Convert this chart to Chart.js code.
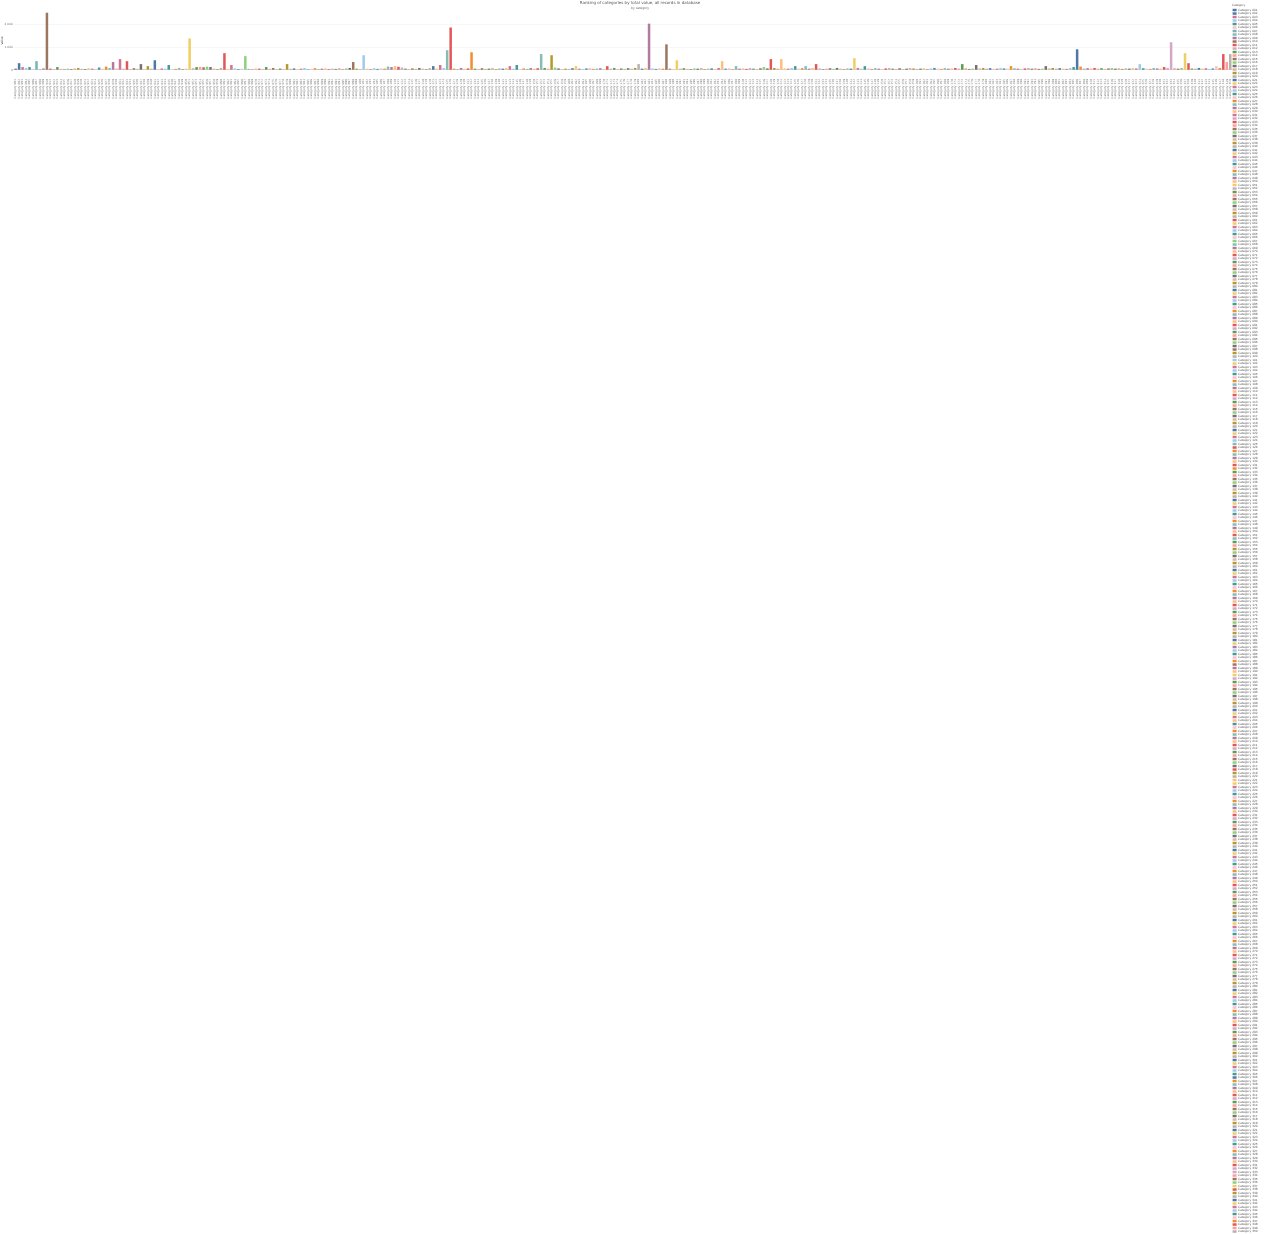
<!DOCTYPE html>
<html>
<head>
<meta charset="utf-8">
<script src="https://cdn.jsdelivr.net/npm/chart.js@4/dist/chart.umd.min.js"></script>
<style>
html,body{margin:0;padding:0;background:#fff;}
#wrap{width:1280px;height:1234px;}
</style>
</head>
<body>
<div id="wrap"><canvas id="c" width="1280" height="1234"></canvas></div>
<script>
const titleText = "Ranking of categories by total value, all records in database";
const subtitleText = "by category";
const yAxisTitle = "Value";
const legendTitle = "Category";

const values = [
  60, 300, 130, 90, 130, 50, 390, 40, 70, 2520,
  60, 40, 130, 50, 30, 60, 40, 70, 90, 50,
  40, 80, 60, 30, 110, 60, 150, 90, 350, 70,
  480, 60, 390, 40, 80, 50, 260, 30, 170, 60,
  430, 40, 70, 60, 220, 30, 50, 90, 40, 60,
  1390, 80, 130, 140, 120, 150, 130, 60, 40, 90,
  740, 50, 220, 70, 40, 60, 610, 50, 30, 70,
  60, 40, 130, 50, 90, 30, 60, 40, 260, 50,
  70, 40, 60, 90, 30, 50, 80, 40, 60, 70,
  40, 60, 50, 80, 30, 70, 90, 350, 60, 40,
  650, 60, 40, 80, 50, 70, 60, 150, 130, 170,
  140, 110, 60, 40, 70, 50, 90, 60, 40, 80,
  170, 60, 220, 90, 870, 1870, 60, 40, 90, 50,
  70, 780, 60, 40, 80, 50, 60, 90, 40, 70,
  60, 90, 170, 60, 220, 40, 70, 50, 90, 60,
  80, 700, 90, 60, 650, 110, 70, 40, 60, 50,
  80, 170, 60, 40, 70, 90, 50, 60, 80, 40,
  170, 60, 90, 40, 70, 50, 80, 60, 90, 260,
  60, 90, 2040, 70, 50, 80, 60, 1130, 60, 40,
  430, 60, 80, 50, 40, 70, 60, 90, 40, 60,
  70, 50, 90, 390, 60, 80, 40, 170, 60, 70,
  50, 90, 60, 40, 80, 130, 70, 480, 90, 60,
  480, 70, 60, 90, 170, 60, 80, 170, 60, 90,
  260, 70, 40, 60, 80, 50, 90, 60, 40, 70,
  60, 520, 90, 60, 170, 70, 50, 80, 60, 40,
  70, 90, 60, 50, 80, 40, 60, 90, 70, 50,
  60, 80, 40, 70, 90, 60, 50, 80, 60, 70,
  90, 60, 260, 80, 50, 60, 220, 70, 90, 60,
  80, 50, 60, 90, 70, 60, 170, 80, 60, 50,
  70, 90, 60, 80, 50, 60, 170, 70, 90, 60,
  80, 60, 50, 90, 130, 910, 150, 60, 80, 70,
  90, 60, 80, 50, 70, 90, 60, 80, 50, 70,
  60, 90, 70, 260, 80, 60, 50, 90, 70, 60,
  130, 90, 1220, 80, 60, 90, 740, 300, 70, 60,
  90, 60, 80, 50, 70, 170, 90, 700, 350, 700
];

// category names are not legible in the reference; placeholders
const categories = values.map((v, i) => "Category " + String(i + 1).padStart(3, "0"));

const yTicks = [0, 1000, 2000];

// styling
const palette = ["#4E79A7","#A0CBE8","#F28E2B","#FFBE7D","#59A14F","#8CD17D","#B6992D","#F1CE63","#499894","#86BCB6","#E15759","#FF9D9A","#79706E","#BAB0AC","#D37295","#FABFD2","#B07AA1","#D4A6C8","#9D7660","#D7B5A6"];
const colorOverrides = {1:"#4E79A7",6:"#76B7B2",9:"#9D7660",30:"#D37295",32:"#E15759",40:"#4E79A7",50:"#F1CE63",60:"#E15759",66:"#8CD17D",97:"#9D7660",100:"#A0CBE8",124:"#86BCB6",125:"#E15759",131:"#F28E2B",151:"#86BCB6",154:"#B6992D",182:"#B07AA1",187:"#9D7660",190:"#F1CE63",203:"#FFBE7D",217:"#E15759",220:"#FFBE7D",241:"#F1CE63",305:"#4E79A7",332:"#D4A6C8",336:"#F1CE63",337:"#E15759",347:"#E15759",348:"#FF9D9A",349:"#BAB0AC"};
const barColors = categories.map((c, i) => colorOverrides[i] || palette[(i * 7) % palette.length]);

const chart = new Chart(document.getElementById("c"), {
  type: "bar",
  data: {
    labels: categories,
    datasets: [{
      label: "Value",
      data: values,
      backgroundColor: barColors,
      borderWidth: 0,
      categoryPercentage: 0.8,
      barPercentage: 0.9
    }]
  },
  options: {
    responsive: false,
    animation: false,
    devicePixelRatio: 1,
    layout: { padding: { top: 0, left: 0, right: 0, bottom: 0 } },
    plugins: {
      title: { display: true, text: titleText, color: "#555", font: { family: "DejaVu Sans", size: 4, weight: "normal" }, padding: { top: 1, bottom: 0.5 } },
      subtitle: { display: true, text: subtitleText, color: "#666", font: { family: "DejaVu Sans", size: 3 }, padding: { top: 0, bottom: 1 } },
      legend: {
        position: "right",
        align: "start",
        title: { display: true, text: legendTitle, position: "start", color: "#555", font: { family: "DejaVu Sans", size: 2.9 }, padding: { top: 4, bottom: 0.5 } },
        labels: {
          boxWidth: 4,
          boxHeight: 2.5,
          padding: 0.6,
          color: "#666",
          font: { family: "DejaVu Sans", size: 2.9 },
          generateLabels: (chart) => categories.map((c, i) => ({
            text: c, fillStyle: barColors[i], strokeStyle: barColors[i], lineWidth: 0, hidden: false, index: i
          }))
        },
        onClick: () => {}
      },
      tooltip: { enabled: false }
    },
    scales: {
      x: {
        grid: { display: false },
        border: { color: "#bbb", width: 0.5 },
        ticks: { autoSkip: false, minRotation: 90, maxRotation: 90, padding: 1, color: "#777", font: { family: "DejaVu Sans", size: 2.9 } },
        afterFit: (scale) => { scale.height = 1164; }
      },
      y: {
        min: 0,
        max: 2600,
        afterBuildTicks: (scale) => { scale.ticks = yTicks.map(v => ({ value: v })); },
        grid: { color: "#eee", lineWidth: 0.5, drawTicks: false },
        border: { display: false },
        title: { display: true, text: yAxisTitle, color: "#333", font: { family: "DejaVu Sans", size: 3 }, padding: 0 },
        ticks: { padding: 1, color: "#777", font: { family: "DejaVu Sans", size: 2.9 } }
      }
    }
  }
});

// widen the legend box so the plot ends near x=1230 as in the reference
const origFit = chart.legend.fit;
chart.legend.fit = function () { origFit.call(this); this.width = Math.max(this.width, 48); };
chart.update();
</script>
</body>
</html>
